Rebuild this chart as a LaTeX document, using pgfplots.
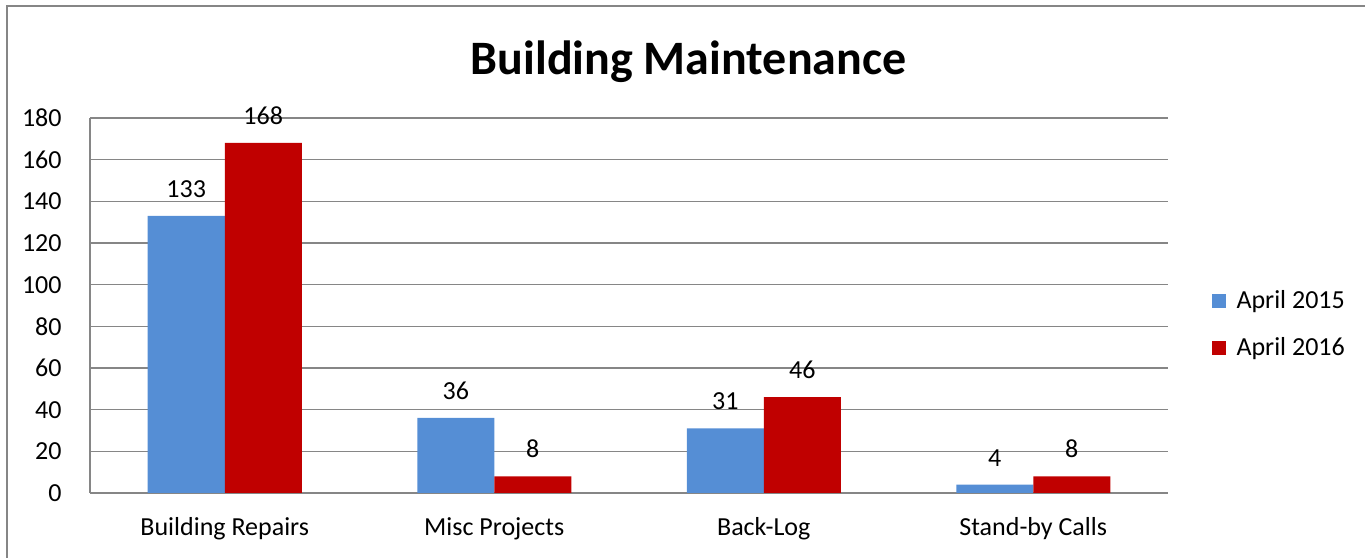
\documentclass[border=0pt]{standalone}
\usepackage{pgfplots}
\pgfplotsset{compat=1.18}
\usepackage{fontspec}
\setmainfont{Carlito}
\definecolor{cblue}{RGB}{85,142,213}
\definecolor{cred}{RGB}{192,0,0}
\definecolor{gridc}{RGB}{134,134,134}
\begin{document}
\begin{tikzpicture}
\useasboundingbox (0,0) rectangle (682.5pt,278.5pt);
\draw[line width=1pt, color=gridc] (3.5pt,-10pt) -- (3.5pt,275.5pt) -- (700pt,275.5pt);
\node[font=\fontsize{24}{28}\selectfont\bfseries, anchor=base] at (344.25pt,241pt) {Building Maintenance};
\begin{axis}[
  at={(45pt,32pt)}, anchor=south west,
  scale only axis, width=539pt, height=187.5pt,
  xmin=-0.5, xmax=3.5, ymin=0, ymax=180,
  ytick={0,20,...,180},
  xtick={0,1,2,3},
  xticklabels={Building Repairs, Misc Projects, Back-Log, Stand-by Calls},
  axis lines*=left,
  axis line style={gridc, line width=0.75pt},
  ymajorgrids, grid style={gridc, line width=0.75pt},
  major tick length=0pt,
  /pgf/number format/assume math mode=true,
  tick label style={font=\fontsize{13}{15}\selectfont, text=black},
  yticklabel style={anchor=east, inner sep=0pt, xshift=-14pt},
  xticklabel style={anchor=base, inner sep=0pt, yshift=-21pt},
  ybar=0pt, bar width=38.5pt,
  nodes near coords,
  every node near coord/.append style={font=\fontsize{13}{15}\selectfont, text=black, anchor=south, inner sep=0pt, yshift=9pt},
  legend style={draw=none, at={(1.040,0.45)}, anchor=west, font=\fontsize{13}{15}\selectfont, row sep=9pt, column sep=3.5pt, inner sep=0pt},
  legend cell align=left,
  legend image code/.code={\fill[#1] (0pt,-3.5pt) rectangle (7pt,3.5pt);},
]
\addplot[fill=cblue, draw=none] coordinates {(0,133) (1,36) (2,31) (3,4)};
\addplot[fill=cred, draw=none] coordinates {(0,168) (1,8) (2,46) (3,8)};
\legend{April 2015, April 2016}
\end{axis}
\end{tikzpicture}
\end{document}
